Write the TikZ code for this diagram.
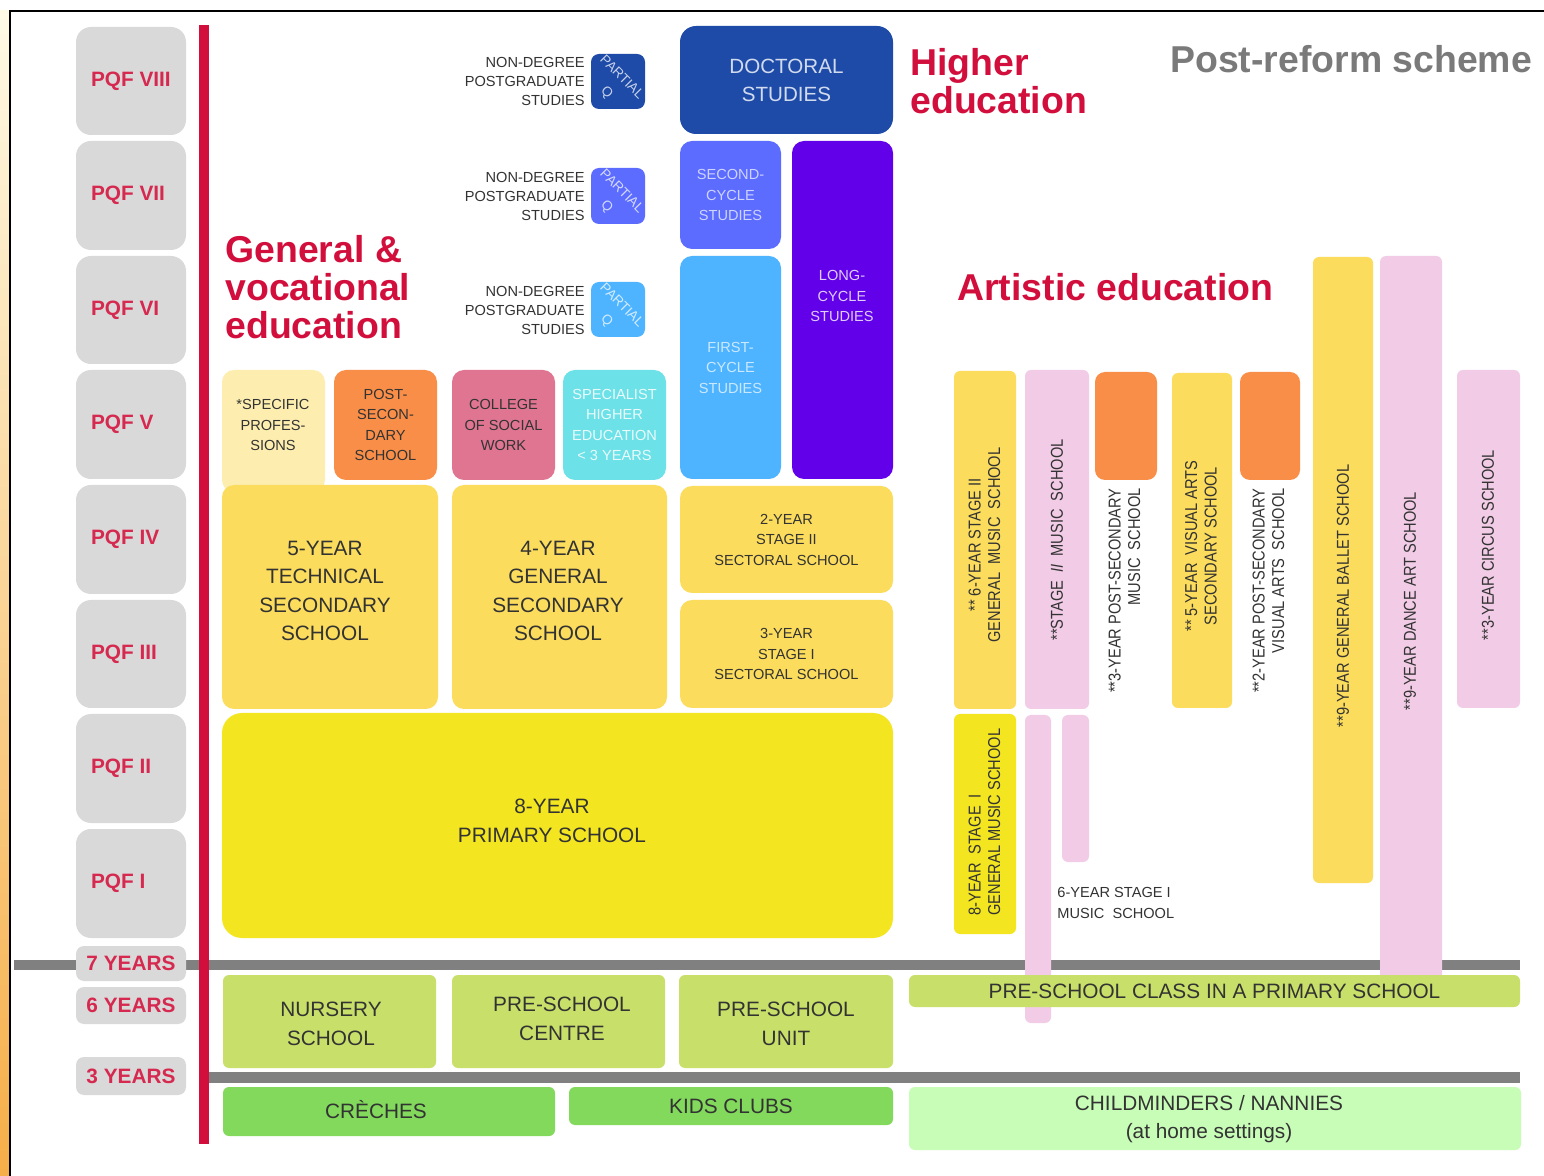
\documentclass[tikz,border=0pt]{standalone}
\usepackage{fontspec}
\setmainfont{Liberation Sans}
\newfontfamily\condfont[FakeStretch=0.85]{Liberation Sans}
\definecolor{hred}{HTML}{D20F3C}
\definecolor{pqfred}{HTML}{D6294F}
\definecolor{pqfgray}{HTML}{D9D9D9}
\definecolor{lgray}{HTML}{808080}
\definecolor{ylw}{HTML}{FBDC5C}
\definecolor{bylw}{HTML}{F3E620}
\definecolor{pylw}{HTML}{FDEEB0}
\definecolor{orng}{HTML}{F98E48}
\definecolor{pnk}{HTML}{E07591}
\definecolor{cyn}{HTML}{6DE1E8}
\definecolor{docb}{HTML}{1E4BA8}
\definecolor{secb}{HTML}{5B6CFF}
\definecolor{fstb}{HTML}{4FB4FF}
\definecolor{lngb}{HTML}{6200EA}
\definecolor{lpnk}{HTML}{F2CCE6}
\definecolor{ygrn}{HTML}{C8E06A}
\definecolor{grn}{HTML}{82D95C}
\definecolor{lgrn}{HTML}{C8FDB8}
\definecolor{txt}{HTML}{333333}
\definecolor{ttl}{HTML}{7A7A7A}
\definecolor{stripT}{HTML}{FEFAE6}
\definecolor{stripM}{HTML}{F9E6A2}
\definecolor{stripB}{HTML}{F6AE48}
\newcommand\szA{\fontsize{7.3}{10.25}\selectfont}
\newcommand\szN{\fontsize{7.3}{9.5}\selectfont}
\newcommand\szB{\fontsize{10.4}{14.2}\selectfont}
\newcommand\szD{\fontsize{10.3}{14}\selectfont}
\newcommand\szP{\fontsize{10.4}{12}\selectfont}
\newcommand\szH{\fontsize{18.7}{19}\selectfont}
\newcommand\szR{\condfont\fontsize{8.6}{9.8}\selectfont}
\newcommand\szQ{\fontsize{6.8}{10.5}\selectfont}
% name, x1, y1, x2, y2, style, text   (pixel units)
\newcommand\drawbox[7]{%
  \pgfmathsetmacro\dbx{(#2+#4)/2}%
  \pgfmathsetmacro\dby{(#3+#5)/2}%
  \pgfmathsetmacro\dbw{(#4-#2)*0.5}%
  \pgfmathsetmacro\dbh{(#5-#3)*0.5}%
  \node[inner sep=0pt, minimum width=\dbw pt, minimum height=\dbh pt, #6] (#1) at (\dbx,\dby) {#7};}
\newcommand\pqflab[1]{\makebox[40pt][l]{#1}}
\begin{document}
\begin{tikzpicture}[x=0.5pt,y=-0.5pt,
  every node/.style={text=txt},
  bxs/.style={rounded corners=6pt, align=center},
  pqfbox/.style={fill=pqfgray, rounded corners=7.5pt, text=pqfred, font=\bfseries\szP},
  yrbox/.style={fill=pqfgray, rounded corners=4pt, text=pqfred, font=\bfseries\szP},
  head/.style={text=hred, font=\bfseries\szH, align=left, inner sep=0pt},
  ndtxt/.style={font=\szN, align=right, inner sep=0pt},
  qbox/.style={rounded corners=4pt},
  qtxt/.style={text=white, text opacity=0.75, font=\szQ, inner sep=0pt, align=center, rotate=-45},
  btxt/.style={align=center, inner sep=0pt},
  rtxt/.style={font=\szR, align=center, inner sep=0pt, rotate=90, text=txt},
  bar/.style={rounded corners=3pt},
  low/.style={rounded corners=3pt, align=center, font=\szB}]
\useasboundingbox (0,0) rectangle (1544,1176);
\fill[white] (0,0) rectangle (1544,1176);
% frame and strip
\shade[top color=stripT, middle color=stripM, bottom color=stripB] (0,11) rectangle (9,1176);
\draw[black, line width=0.8pt] (1544,11) -- (10,11) -- (10,1176);
% age lines
\fill[lgray] (14,960) rectangle (1520,970);
\fill[lgray] (208,1072) rectangle (1520,1083);
% PQF column
\drawbox{p8}{76}{27}{186}{135}{pqfbox}{\pqflab{PQF VIII}}
\drawbox{p7}{76}{141}{186}{250}{pqfbox}{\pqflab{PQF VII}}
\drawbox{p6}{76}{256}{186}{364}{pqfbox}{\pqflab{PQF VI}}
\drawbox{p5}{76}{370}{186}{479}{pqfbox}{\pqflab{PQF V}}
\drawbox{p4}{76}{485}{186}{594}{pqfbox}{\pqflab{PQF IV}}
\drawbox{p3}{76}{600}{186}{708}{pqfbox}{\pqflab{PQF III}}
\drawbox{p2}{76}{714}{186}{823}{pqfbox}{\pqflab{PQF II}}
\drawbox{p1}{76}{829}{186}{938}{pqfbox}{\pqflab{PQF I}}
\drawbox{y7}{76}{946}{186}{981}{yrbox}{7 YEARS}
\drawbox{y6}{76}{987}{186}{1024}{yrbox}{6 YEARS}
\drawbox{y3}{76}{1057}{186}{1095}{yrbox}{3 YEARS}
% red line
\fill[hred] (199,25) rectangle (209,1144);
% headings
\node[head, anchor=west] (gve) at (225,287) {General \&\\vocational\\education};
\node[head, anchor=west] (hed) at (910,81) {Higher\\education};
\node[head, anchor=west] (aed) at (957,287) {Artistic education};
\node[head, text=ttl, anchor=west] (prs) at (1170,59) {Post-reform scheme};
% non-degree postgraduate
\node[ndtxt, anchor=east] (nd1) at (585,81) {NON-DEGREE\\POSTGRADUATE\\STUDIES};
\node[ndtxt, anchor=east] (nd2) at (585,196) {NON-DEGREE\\POSTGRADUATE\\STUDIES};
\node[ndtxt, anchor=east] (nd3) at (585,310) {NON-DEGREE\\POSTGRADUATE\\STUDIES};
\drawbox{q1}{591}{54}{645}{109}{qbox, fill=docb}{}
\drawbox{q2}{591}{168}{645}{224}{qbox, fill=secb}{}
\drawbox{q3}{591}{282}{645}{337}{qbox, fill=fstb}{}
\node[qtxt] (q1t) at (614,85) {PARTIAL\\Q};
\node[qtxt] (q2t) at (614,199) {PARTIAL\\Q};
\node[qtxt] (q3t) at (614,313) {PARTIAL\\Q};
% higher education
\drawbox{doc}{680}{26}{893}{134}{bxs, rounded corners=8pt, fill=docb, text=white, text opacity=0.8, font=\szD}{DOCTORAL\\STUDIES}
\drawbox{sc}{680}{141}{781}{249}{bxs, fill=secb, text=white, text opacity=0.7, font=\szA}{SECOND-\\CYCLE\\STUDIES}
\drawbox{fc}{680}{256}{781}{479}{bxs, fill=fstb, text=white, text opacity=0.7, font=\szA}{FIRST-\\CYCLE\\STUDIES}
\drawbox{lc}{792}{141}{893}{479}{bxs, fill=lngb}{}
\node[btxt, text=white, text opacity=0.8, font=\szA] (lct) at (842,296) {LONG-\\CYCLE\\STUDIES};
\drawbox{s2}{680}{486}{893}{593}{bxs, fill=ylw, font=\szA}{2-YEAR\\STAGE II\\SECTORAL SCHOOL}
\drawbox{s3}{680}{600}{893}{708}{bxs, fill=ylw, font=\szA}{3-YEAR\\STAGE I\\SECTORAL SCHOOL}
% PQF V row
\drawbox{spf}{222}{370}{325}{492}{bxs, fill=pylw}{}
\node[btxt, font=\szA] (spft) at (273,425) {*SPECIFIC\\PROFES-\\SIONS};
\drawbox{pss}{334}{370}{437}{480}{bxs, fill=orng, font=\szA}{POST-\\SECON-\\DARY\\SCHOOL}
\drawbox{csw}{452}{370}{555}{480}{bxs, fill=pnk, font=\szA}{COLLEGE\\OF SOCIAL\\WORK}
\drawbox{she}{563}{370}{666}{480}{bxs, fill=cyn, text=white, text opacity=0.85, font=\szA}{SPECIALIST\\HIGHER\\EDUCATION\\< 3 YEARS}
% secondary and primary
\drawbox{tss}{222}{485}{438}{709}{bxs, fill=ylw}{}
\node[btxt, font=\szB] (tsst) at (325,591) {5-YEAR\\TECHNICAL\\SECONDARY\\SCHOOL};
\drawbox{gss}{452}{485}{667}{709}{bxs, fill=ylw}{}
\node[btxt, font=\szB] (gsst) at (558,591) {4-YEAR\\GENERAL\\SECONDARY\\SCHOOL};
\drawbox{prim}{222}{713}{893}{938}{bxs, rounded corners=10pt, fill=bylw}{}
\node[btxt, font=\szB] (primt) at (552,821) {8-YEAR\\PRIMARY SCHOOL};
% artistic education bars
\drawbox{ag2}{954}{371}{1016}{709}{bar, fill=ylw}{}
\drawbox{ag1}{954}{714}{1016}{934}{bar, fill=bylw}{}
\drawbox{am2}{1025}{370}{1089}{709}{bar, fill=lpnk}{}
\drawbox{am1a}{1025}{715}{1051}{1023}{bar, fill=lpnk}{}
\drawbox{am1b}{1062}{715}{1089}{862}{bar, fill=lpnk}{}
\drawbox{apm}{1095}{372}{1157}{480}{bar, rounded corners=5pt, fill=orng}{}
\drawbox{avs}{1172}{373}{1232}{708}{bar, fill=ylw}{}
\drawbox{apv}{1240}{372}{1300}{480}{bar, rounded corners=5pt, fill=orng}{}
\drawbox{abl}{1313}{257}{1373}{883}{bar, fill=ylw}{}
\drawbox{adn}{1380}{256}{1442}{1005}{bar, fill=lpnk}{}
\drawbox{acs}{1457}{370}{1520}{708}{bar, fill=lpnk}{}
\node[rtxt] (tag2) at (984.5,545) {** 6-YEAR STAGE II\\GENERAL~~MUSIC~~SCHOOL};
\node[rtxt, anchor=west, align=left] (tag1) at (984.5,916) {8-YEAR~~STAGE~~I\\GENERAL MUSIC SCHOOL};
\node[rtxt] (tam2) at (1057,540) {**STAGE~~\textit{II}~~MUSIC~~SCHOOL};
\node[rtxt, anchor=east, align=right] (tapm) at (1124.5,488) {**3-YEAR POST-SECONDARY\\MUSIC~~SCHOOL};
\node[rtxt] (tavs) at (1201,546) {** 5-YEAR~~VISUAL ARTS\\SECONDARY SCHOOL};
\node[rtxt, anchor=east, align=right] (tapv) at (1268.5,488) {**2-YEAR POST-SECONDARY\\VISUAL ARTS~~SCHOOL};
\node[rtxt] (tabl) at (1343,596) {**9-YEAR GENERAL BALLET SCHOOL};
\node[rtxt] (tadn) at (1410,601) {**9-YEAR DANCE ART SCHOOL};
\node[rtxt] (tacs) at (1488,545) {**3-YEAR CIRCUS SCHOOL};
\node[anchor=west, align=left, font=\szA, inner sep=0pt] (tsm1) at (1057,903) {6-YEAR STAGE I\\MUSIC~~SCHOOL};
% pre-school
\drawbox{nur}{223}{975}{436}{1068}{low, fill=ygrn}{}
\node[btxt, font=\szB] (nurt) at (331,1024) {NURSERY\\SCHOOL};
\drawbox{psc}{452}{975}{665}{1068}{low, fill=ygrn}{}
\node[btxt, font=\szB] (psct) at (562,1019) {PRE-SCHOOL\\CENTRE};
\drawbox{psu}{679}{975}{893}{1068}{low, fill=ygrn}{}
\node[btxt, font=\szB] (psut) at (786,1024) {PRE-SCHOOL\\UNIT};
\drawbox{pcl}{909}{975}{1520}{1007}{low, fill=ygrn}{PRE-SCHOOL CLASS IN A PRIMARY SCHOOL}
\drawbox{cre}{223}{1087}{555}{1136}{low, fill=grn}{}
\node[btxt, font=\szB] (cret) at (376,1110) {CRÈCHES};
\drawbox{kid}{569}{1087}{893}{1125}{low, fill=grn}{KIDS CLUBS}
\drawbox{chm}{909}{1087}{1521}{1150}{low, fill=lgrn}{}
\node[btxt, font=\szB] (chmt) at (1209,1119) {CHILDMINDERS / NANNIES\\(at home settings)};
\end{tikzpicture}
\end{document}
